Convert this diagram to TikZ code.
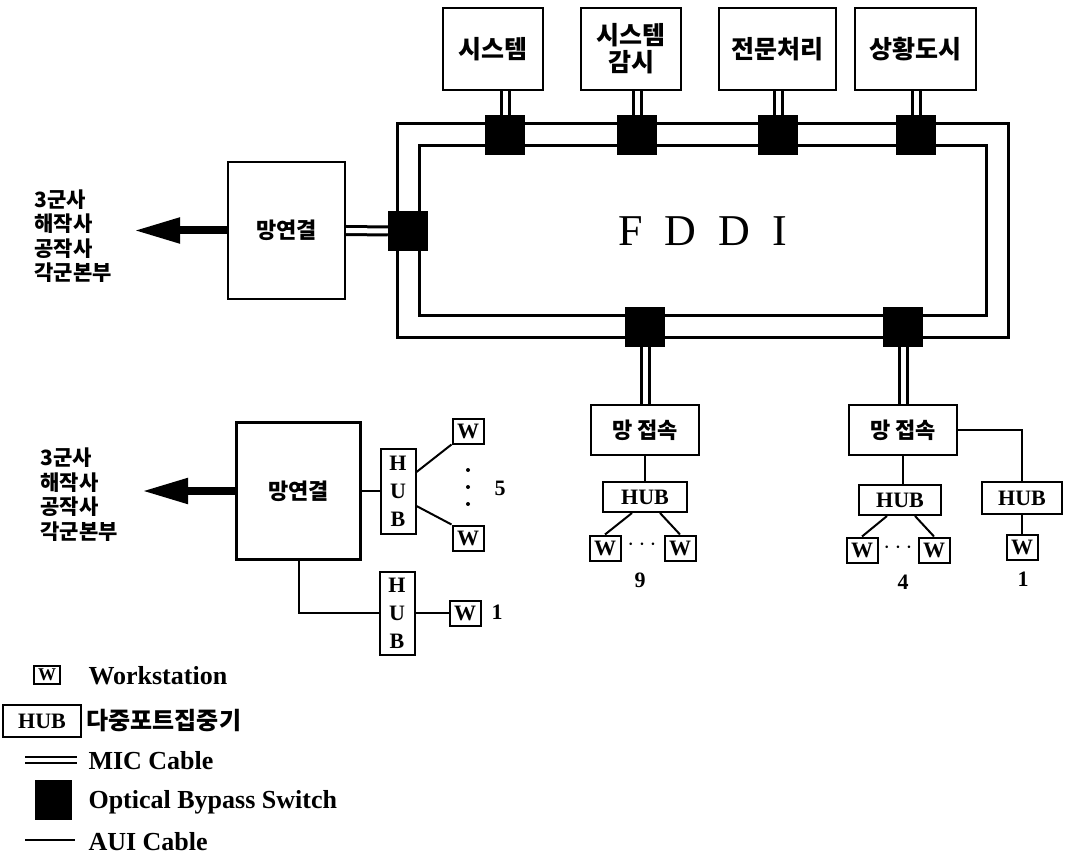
\documentclass[tikz,border=0pt]{standalone}
\usepackage{fontspec}
\setmainfont{Liberation Serif}
\newfontfamily\kr{Noto Sans CJK KR}
\usetikzlibrary{arrows.meta,positioning}

\begin{document}
\begin{tikzpicture}[x=1pt, y=-1pt,
  box/.style={draw, line width=2.2pt, minimum width=100pt, minimum height=82pt, align=center, font=\kr\bfseries\fontsize{25}{27}\selectfont},
  sw/.style={fill=black, minimum width=40pt, minimum height=40pt, inner sep=0pt},
  mic/.style={line width=3pt, double=white, double distance=5pt},
  aui/.style={line width=2pt},
  ring/.style={draw, line width=3pt, double=white, double distance=19pt, minimum width=589pt, minimum height=192pt},
  hub/.style={draw, line width=2pt, inner sep=0pt, minimum width=82pt, minimum height=30pt, font=\bfseries\fontsize{22}{28}\selectfont},
  ws/.style={draw, line width=2pt, minimum width=31pt, minimum height=25pt, inner sep=0pt, font=\bfseries\fontsize{22}{22}\selectfont},
  site/.style={anchor=west, align=left, font=\kr\bfseries\fontsize{21}{24.5}\selectfont},
  num/.style={font=\bfseries\fontsize{22}{22}\selectfont},
  leg/.style={anchor=west, font=\bfseries\fontsize{26}{26}\selectfont},
  bigarrow/.style={line width=8pt, -{Triangle[length=46pt, width=24pt]}}]
\useasboundingbox (0,0) rectangle (1065,858);

\node[ring, font=\fontsize{44}{44}\selectfont] (fddi) at (702.5,231) {F\hspace{0.5em}D\hspace{0.5em}D\hspace{0.5em}I};

\node[box] (b1) at (493,49) {시스템};
\node[box] (b2) at (631,49) {시스템\\감시};
\node[box, minimum width=117pt] (b3) at (777.5,49) {전문처리};
\node[box, minimum width=121pt] (b4) at (915.5,49) {상황도시};

\node[sw] (s1) at (505,135) {};
\node[sw] (s2) at (637,135) {};
\node[sw] (s3) at (778,135) {};
\node[sw] (s4) at (916,135) {};
\node[sw] (s0) at (408,231) {};
\node[sw] (s5) at (645,327) {};
\node[sw] (s6) at (903,327) {};
\draw[mic] (s1.north) -- (s1.north |- b1.south);
\draw[mic] (s2.north) -- (s2.north |- b2.south);
\draw[mic] (s3.north) -- (s3.north |- b3.south);
\draw[mic] (s4.north) -- (s4.north |- b4.south);

\node[box, minimum width=117pt, minimum height=137pt, font=\kr\bfseries\fontsize{22}{22}\selectfont] (link1) at (286.5,230.5) {망연결};
\draw[mic] (link1.east) -- (s0.west);
\coordinate (to1) at (134,230.5);
\draw[bigarrow] (link1.west) -- (to1);
\node[site] (dest1) at (31,236) {3군사\\해작사\\공작사\\각군본부};

\node[box, minimum width=124pt, minimum height=137pt, font=\kr\bfseries\fontsize{22}{22}\selectfont] (link2) at (298.5,491) {망연결};
\coordinate (to2) at (142,491);
\draw[bigarrow] (link2.west) -- (to2);
\node[site] (dest2) at (37,494.5) {3군사\\해작사\\공작사\\각군본부};

\node[hub, minimum width=35pt, minimum height=85pt, align=center] (hub1) at (398,491) {H\\U\\B};
\draw[aui] (link2.east) -- (hub1.west);
\node[ws] (w1) at (468,431) {W};
\node[ws] (w2) at (468,538) {W};
\draw[aui] ([yshift=19pt]hub1.east) -- (w1.south west);
\draw[aui] ([yshift=-15pt]hub1.east) -- (w2.north west);
\foreach \yy in {470,487,504}
  \fill (468,\yy) circle[radius=2pt];
\node[num] (n5) at (500,488) {5};

\node[hub, minimum width=35pt, minimum height=83pt, align=center] (hub2) at (397,613) {H\\U\\B};
\draw[aui] (link2.south) |- (hub2.west);
\node[ws] (w3) at (465,613) {W};
\draw[aui] (hub2.east) -- (w3.west);
\node[num] (n1a) at (497,612) {1};

\node[box, minimum width=108pt, minimum height=50pt, font=\kr\bfseries\fontsize{22}{22}\selectfont] (acc1) at (645,430) {망 접속};
\draw[mic] (s5.south) -- (acc1.north);
\node[hub, minimum width=84pt] (huba) at (645,497) {HUB};
\draw[aui] (acc1.south) -- (huba.north);
\node[ws] (wa1) at (605,548) {W};
\node[ws] (wa2) at (680,548) {W};
\draw[aui] ([xshift=-13pt]huba.south) -- (wa1.north);
\draw[aui] ([xshift=15pt]huba.south) -- (wa2.north);
\node[font=\bfseries\fontsize{24}{24}\selectfont] (dota) at (642,545) {$\cdots$};
\node[num] (n9) at (640,580) {9};

\node[box, minimum width=108pt, minimum height=50pt, font=\kr\bfseries\fontsize{22}{22}\selectfont] (acc2) at (903,430) {망 접속};
\draw[mic] (s6.south) -- (acc2.north);
\node[hub] (hubb) at (900,500) {HUB};
\draw[aui] (acc2.south) -- (acc2.south |- hubb.north);
\node[ws] (wb1) at (862,550) {W};
\node[ws] (wb2) at (934,550) {W};
\draw[aui] ([xshift=-13pt]hubb.south) -- (wb1.north);
\draw[aui] ([xshift=15pt]hubb.south) -- (wb2.north);
\node[font=\bfseries\fontsize{24}{24}\selectfont] (dotb) at (898,548) {$\cdots$};
\node[num] (n4) at (903,582) {4};

\node[hub, minimum width=80pt, minimum height=32pt] (hubc) at (1022,498) {HUB};
\draw[aui] (acc2.east) -| (hubc.north);
\node[ws] (wc) at (1022,547) {W};
\draw[aui] (hubc.south) -- (wc.north);
\node[num] (n1b) at (1023,579) {1};

\node[ws, minimum width=26pt, minimum height=18pt, font=\bfseries\fontsize{18}{18}\selectfont] (lw) at (47,675) {W};
\node[leg] (lwt) at (85,676) {Workstation};
\node[hub, minimum width=78pt, minimum height=32pt] (lh) at (42,721) {HUB};
\node[leg, font=\kr\bfseries\fontsize{24}{24}\selectfont] (lht) at (83,721) {다중포트집중기};
\coordinate (lm1) at (25,760);
\coordinate (lm2) at (77,760);
\draw[mic, line width=2pt, double distance=4pt] (lm1) -- (lm2);
\node[leg] (lmt) at (85,761) {MIC Cable};
\node[sw, minimum width=37pt] (ls) at (53.5,800) {};
\node[leg] (lst) at (85,802) {Optical Bypass Switch};
\coordinate (la1) at (25,840);
\coordinate (la2) at (75,840);
\draw[aui] (la1) -- (la2);
\node[leg] (lat) at (85,842) {AUI Cable};
\end{tikzpicture}
\end{document}
